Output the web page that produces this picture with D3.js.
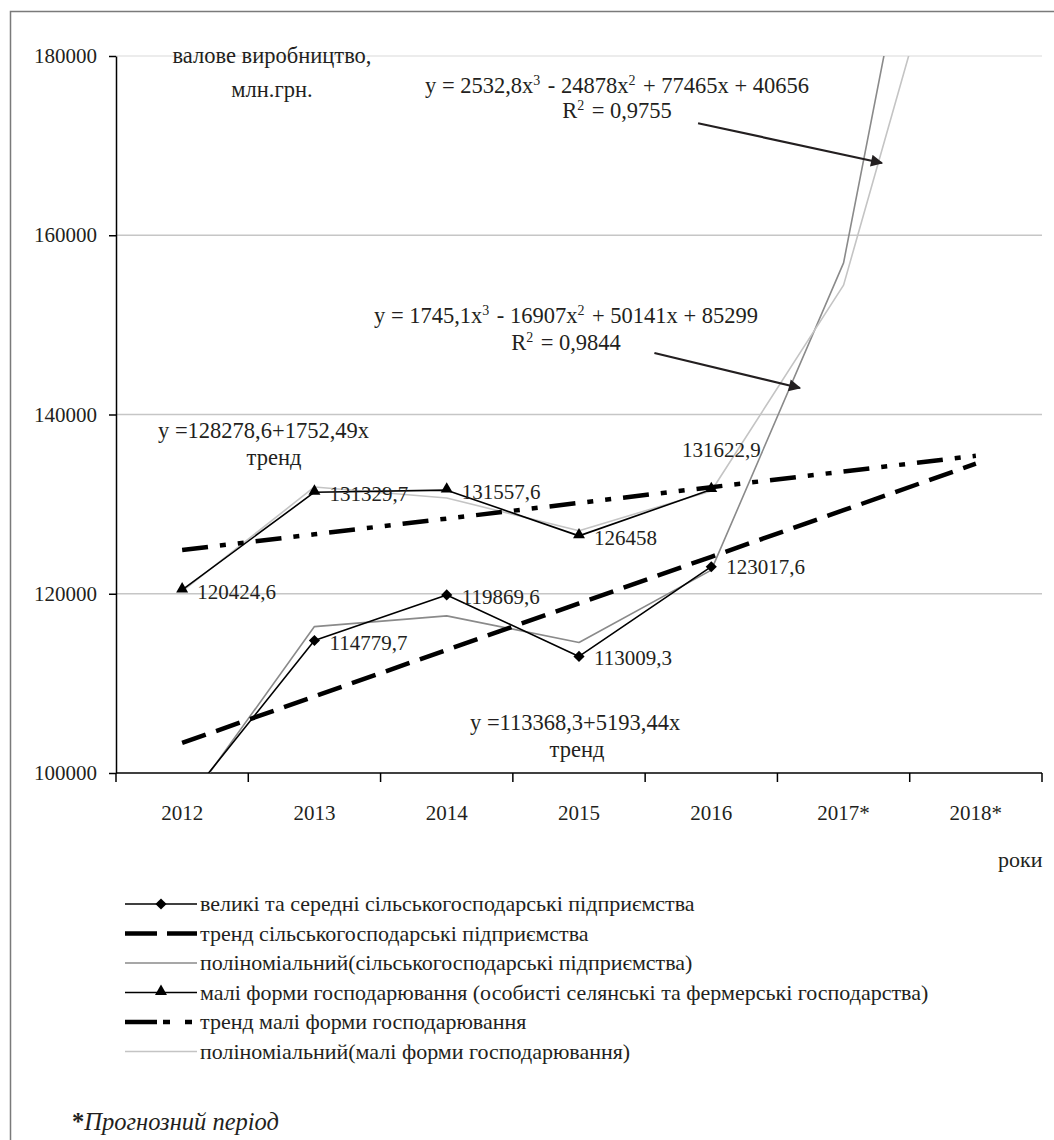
<!DOCTYPE html>
<html>
<head>
<meta charset="utf-8">
<script src="https://cdn.jsdelivr.net/npm/d3@7"></script>
<style>
  body { margin: 0; background: #fff; }
  text { font-family: "Liberation Serif", "Times New Roman", serif; fill: #231f20; }
</style>
</head>
<body>
<svg id="chart"></svg>
<script>
// categories
var years = ["2012", "2013", "2014", "2015", "2016", "2017*", "2018*"];
// actual values (the 2012 value of big enterprises lies under the 100000 floor)
var bigEnterprises = [96300, 114779.7, 119869.6, 113009.3, 123017.6];
var smallForms = [120424.6, 131329.7, 131557.6, 126458, 131622.9];
// linear trends
var bigTrend = [103350, 108543, 113737, 118930, 124124, 129317, 134511];
var smallTrend = [124880, 126632, 128385, 130137, 131890, 133642, 135395];
// polynomial (3rd order) trend values
var bigPoly = [95775.8, 116336.4, 117534.6, 114567.2, 122631, 156922.8, 232639.4];
var smallPoly = [120278.1, 131913.8, 130676.7, 127037.4, 131466.5, 154434.6, 206412.3];
var yTicks = [100000, 120000, 140000, 160000, 180000];
var legendLabels = [
  "великі та середні сільськогосподарські підприємства",
  "тренд сільськогосподарські підприємства",
  "поліноміальний(сільськогосподарські підприємства)",
  "малі форми господарювання (особисті селянські та фермерські господарства)",
  "тренд малі форми господарювання",
  "поліноміальний(малі форми господарювання)"
];

var W = 1054, H = 1140;
var plot = { left: 116, right: 1042, top: 56, bottom: 773 };

var svg = d3.select("#chart").attr("width", W).attr("height", H);

// outer frame (runs off the right and bottom edge in the original)
svg.append("rect")
  .attr("x", 10.5).attr("y", 11.5)
  .attr("width", 1200).attr("height", 1300)
  .attr("fill", "none").attr("stroke", "#7a7a7a").attr("stroke-width", 1.5);

var x = d3.scaleBand().domain(years).range([plot.left, plot.right]).padding(0);
var y = d3.scaleLinear().domain([100000, 180000]).range([plot.bottom, plot.top]);
var xc = function (d) { return x(d) + x.bandwidth() / 2; };
// fractional category index, used for the annotation arrows
var xi = d3.scaleLinear().domain([0, 6]).range([xc(years[0]), xc(years[6])]);

// gridlines
svg.append("g").selectAll("line")
  .data(yTicks.slice(1))
  .enter().append("line")
  .attr("x1", plot.left).attr("x2", plot.right)
  .attr("y1", function (d) { return y(d); })
  .attr("y2", function (d) { return y(d); })
  .attr("stroke", function (d) { return d === 180000 ? "#e6e6e6" : "#c6c6c6"; })
  .attr("stroke-width", 1.5);

// y axis
var yAxis = svg.append("g")
  .attr("transform", "translate(" + plot.left + ",0)")
  .call(d3.axisLeft(y).tickValues(yTicks).tickSize(7).tickSizeOuter(0).tickPadding(12).tickFormat(d3.format("d")));
yAxis.select(".domain").attr("stroke", "#000").attr("stroke-width", 1.5);
yAxis.selectAll(".tick line").attr("stroke", "#000").attr("stroke-width", 1.5);
yAxis.selectAll(".tick text").attr("font-size", 21).attr("font-family", "Liberation Serif").attr("fill", "#231f20");

// x axis, ticks sit on the category boundaries
var xAxis = svg.append("g").attr("transform", "translate(0," + plot.bottom + ")");
xAxis.append("line")
  .attr("x1", plot.left).attr("x2", plot.right)
  .attr("stroke", "#000").attr("stroke-width", 1.5);
xAxis.selectAll("line.tk")
  .data(d3.range(years.length + 1))
  .enter().append("line").attr("class", "tk")
  .attr("x1", function (i) { return plot.left + i * x.step(); })
  .attr("x2", function (i) { return plot.left + i * x.step(); })
  .attr("y1", 0).attr("y2", 9)
  .attr("stroke", "#000").attr("stroke-width", 1.5);
xAxis.selectAll("text")
  .data(years)
  .enter().append("text")
  .attr("x", xc).attr("y", 47)
  .attr("text-anchor", "middle").attr("font-size", 21)
  .text(function (d) { return d; });

// data lines, clipped to the plot area
svg.append("clipPath").attr("id", "clip")
  .append("rect")
  .attr("x", plot.left).attr("y", plot.top)
  .attr("width", plot.right - plot.left).attr("height", plot.bottom - plot.top);

var line = d3.line()
  .x(function (d, i) { return xc(years[i]); })
  .y(function (d) { return y(d); });

var lines = svg.append("g").attr("clip-path", "url(#clip)");

function drawLine(values, stroke, width, dash) {
  lines.append("path")
    .datum(values)
    .attr("d", line)
    .attr("fill", "none")
    .attr("stroke", stroke)
    .attr("stroke-width", width)
    .attr("stroke-dasharray", dash || null)
    .attr("stroke-linejoin", "round");
}

var dashBig = "25,11";
var dashSmall = "26,12,6,12,6,12";

drawLine(bigPoly, "#8a8a8a", 1.6);
drawLine(smallPoly, "#c4c4c4", 1.6);
drawLine(bigEnterprises, "#000", 1.6);
drawLine(smallForms, "#000", 1.6);
drawLine(bigTrend, "#000", 4.5, dashBig);
drawLine(smallTrend, "#000", 4.5, dashSmall);

var diamond = d3.symbol().type(d3.symbolSquare).size(62);
var triangle = d3.symbol().type(d3.symbolTriangle).size(62);

lines.selectAll("path.dia")
  .data(bigEnterprises)
  .enter().append("path").attr("class", "dia")
  .attr("d", diamond)
  .attr("transform", function (d, i) { return "translate(" + xc(years[i]) + "," + y(d) + ") rotate(45)"; })
  .attr("fill", "#000");

lines.selectAll("path.tri")
  .data(smallForms)
  .enter().append("path").attr("class", "tri")
  .attr("d", triangle)
  .attr("transform", function (d, i) { return "translate(" + xc(years[i]) + "," + (y(d) - 1) + ")"; })
  .attr("fill", "#000");

// value labels
function fmt(v) { return String(v).replace(".", ","); }

var labels = svg.append("g").attr("font-size", 21);
bigEnterprises.forEach(function (v, i) {
  if (v < 100000) return;
  labels.append("text")
    .attr("x", xc(years[i]) + 15)
    .attr("y", y(v) + (i === 4 ? 7 : 9))
    .text(fmt(v));
});
smallForms.forEach(function (v, i) {
  var t = labels.append("text").text(fmt(v));
  if (i === 4) {
    t.attr("x", xc(years[i]) + 10).attr("y", y(v) - 33).attr("text-anchor", "middle");
  } else {
    t.attr("x", xc(years[i]) + 15).attr("y", y(v) + 9);
  }
});

// annotations
var ann = svg.append("g").attr("font-size", 22.5);

function centered(txt, cx, by) {
  return ann.append("text").attr("x", cx).attr("y", by).attr("text-anchor", "middle").text(txt);
}
centered("валове виробництво,", 272, 63);
centered("млн.грн.", 272, 97);

function equation(parts, cx, by) {
  var t = ann.append("text").attr("x", cx).attr("y", by).attr("text-anchor", "middle").attr("font-size", 22.5);
  parts.forEach(function (p) {
    if (typeof p === "object") {
      t.append("tspan").attr("dy", -8).attr("font-size", 14).text(p.sup);
      t.append("tspan").attr("dy", 8).text("\u200a");
    } else {
      t.append("tspan").text(p);
    }
  });
}
equation(["y = 2532,8x", { sup: "3" }, " - 24878x", { sup: "2" }, " + 77465x + 40656"], 617, 93);
equation(["R", { sup: "2" }, " = 0,9755"], 617, 118);
equation(["y = 1745,1x", { sup: "3" }, " - 16907x", { sup: "2" }, " + 50141x + 85299"], 566, 323);
equation(["R", { sup: "2" }, " = 0,9844"], 566, 350);

ann.append("text").attr("x", 158).attr("y", 438).text("y =128278,6+1752,49x");
centered("тренд", 274, 465);
ann.append("text").attr("x", 470).attr("y", 730).text("y =113368,3+5193,44x");
centered("тренд", 577, 757);

ann.append("text").attr("x", 998).attr("y", 867).attr("font-size", 22).text("роки");

// arrows pointing at the polynomial curves
svg.append("defs").append("marker")
  .attr("id", "head")
  .attr("viewBox", "0 0 10 10")
  .attr("refX", 9).attr("refY", 5)
  .attr("markerWidth", 7).attr("markerHeight", 5.5)
  .attr("markerUnits", "strokeWidth")
  .attr("orient", "auto")
  .append("path").attr("d", "M0,0L10,5L0,10z").attr("fill", "#231f20");

var arrows = [
  { from: [3.9, 172500], to: [5.29, 168060] },
  { from: [3.57, 146860], to: [4.67, 142960] }
];
svg.selectAll("line.arrow")
  .data(arrows)
  .enter().append("line").attr("class", "arrow")
  .attr("x1", function (d) { return xi(d.from[0]); })
  .attr("y1", function (d) { return y(d.from[1]); })
  .attr("x2", function (d) { return xi(d.to[0]); })
  .attr("y2", function (d) { return y(d.to[1]); })
  .attr("stroke", "#231f20").attr("stroke-width", 2.2)
  .attr("marker-end", "url(#head)");

// legend
var legend = svg.append("g").attr("font-size", 22);
var legendStyles = [
  { stroke: "#000", width: 1.6, marker: "dia" },
  { stroke: "#000", width: 4.5, dash: "32,10" },
  { stroke: "#8a8a8a", width: 1.6 },
  { stroke: "#000", width: 1.6, marker: "tri" },
  { stroke: "#000", width: 4.5, dash: "32,6,7,15,7,15" },
  { stroke: "#c4c4c4", width: 1.6 }
];
legendLabels.forEach(function (lab, i) {
  var ly = 904 + i * 29.5;
  var s = legendStyles[i];
  legend.append("line")
    .attr("x1", 125).attr("x2", 197).attr("y1", ly).attr("y2", ly)
    .attr("stroke", s.stroke).attr("stroke-width", s.width)
    .attr("stroke-dasharray", s.dash || null);
  if (s.marker === "dia") {
    legend.append("path").attr("d", diamond)
      .attr("transform", "translate(161," + ly + ") rotate(45)").attr("fill", "#000");
  }
  if (s.marker === "tri") {
    legend.append("path").attr("d", triangle)
      .attr("transform", "translate(161," + (ly - 1) + ")").attr("fill", "#000");
  }
  legend.append("text").attr("x", 200).attr("y", ly + 7).text(lab);
});

// footnote
var note = svg.append("text").attr("x", 72).attr("y", 1130).attr("font-size", 24.5);
note.append("tspan").attr("font-weight", "bold").text("*");
note.append("tspan").attr("font-style", "italic").text("Прогнозний період");
</script>
</body>
</html>
